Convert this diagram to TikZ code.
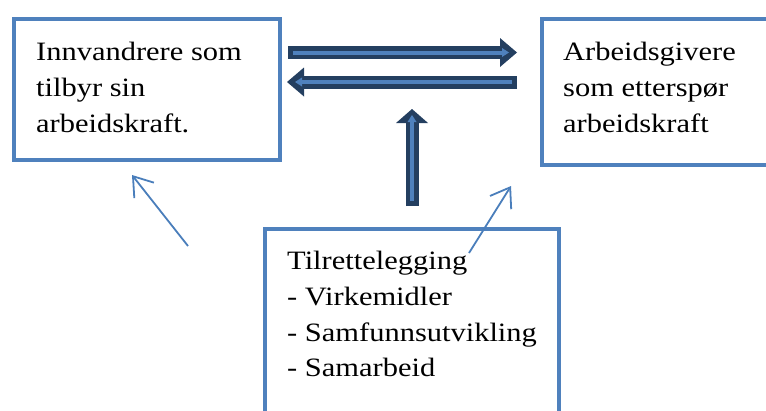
\documentclass[tikz,border=0pt]{standalone}
\usepackage{fontspec}
\setmainfont{Liberation Serif}[FakeStretch=1.15]
\usetikzlibrary{arrows.meta}
\definecolor{boxblue}{HTML}{4F81BD}
\definecolor{navy}{HTML}{243F60}
\definecolor{lineblue}{HTML}{4A7EBB}

\begin{document}
\begin{tikzpicture}
    [x=1pt, y=-1pt,
    box/.style={draw=boxblue, line width=4pt, inner sep=0pt},
    txt/.style={anchor=north west, inner sep=0pt, align=left, font=\fontsize{26.5}{35.8}\selectfont},
    block/.style={navy, line width=13pt, -{Triangle[length=17pt, width=29pt, line width=0pt]}},
    core/.style={boxblue, line width=4pt, -{Triangle[length=7pt, width=9pt, line width=0pt]}, shorten <=5pt, shorten >=8pt},
    link/.style={lineblue, line width=1.8pt, -{Straight Barb[length=18pt, width=25pt]}}]

    \useasboundingbox (0,0) rectangle (766,410);
    \clip (0,0) rectangle (766,410);

    % the three boxes
    \node[box, minimum width=266pt, minimum height=141pt] (inn) at (147,89.5) {};
    \node[box, minimum width=248.5pt, minimum height=146pt] (arb) at (665.75,92) {};
    \node[box, minimum width=293.5pt, minimum height=211pt] (til) at (411.75,334.5) {};

    % texts in the boxes
    \node[txt] (innText) at (36,42) {Innvandrere som\\tilbyr sin\\arbeidskraft.};
    \node[txt] (arbText) at (563,42) {Arbeidsgivere\\som etterspør\\arbeidskraft};
    \node[txt] (tilText) at (287,251) {Tilrettelegging\\- Virkemidler\\- Samfunnsutvikling\\- Samarbeid};

    % ends of the arrows
    \coordinate (a1) at (288,52.5);
    \coordinate (b1) at (517,52.5);
    \coordinate (a2) at (517,82);
    \coordinate (b2) at (287,82);
    \coordinate (a3) at (412,206);
    \coordinate (b3) at (412,109);
    \coordinate (t1) at (188,246);
    \coordinate (h1) at (132,175);
    \coordinate (t2) at (469,253);
    \coordinate (h2) at (511,186);

    % block arrows
    \draw[block] (a1) -- (b1);
    \draw[core] (a1) -- (b1);
    \draw[block] (a2) -- (b2);
    \draw[core] (a2) -- (b2);
    \draw[block, -{Triangle[length=14pt, width=32pt, line width=0pt]}] (a3) -- (b3);
    \draw[core, shorten >=6pt] (a3) -- (b3);

    % thin arrows
    \draw[link] (t1) -- (h1);
    \draw[link] (t2) -- (h2);

\end{tikzpicture}
\end{document}
